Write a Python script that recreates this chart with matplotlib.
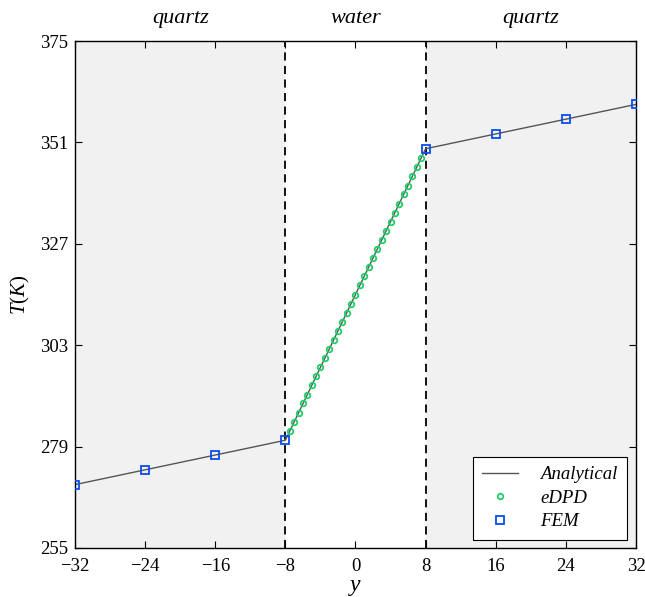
import matplotlib
matplotlib.use("Agg")
import matplotlib.pyplot as plt
import numpy as np

# Analytical profile (piecewise linear through interfaces)
analytical_y = [-32, -8, 8, 32]
analytical_T = [270.0, 280.5, 349.5, 360.0]

# eDPD samples in the water slab
edpd_y = [-7.5, -7.0, -6.5, -6.0, -5.5, -5.0, -4.5, -4.0, -3.5, -3.0, -2.5,
          -2.0, -1.5, -1.0, -0.5, 0.0, 0.5, 1.0, 1.5, 2.0, 2.5, 3.0, 3.5,
          4.0, 4.5, 5.0, 5.5, 6.0, 6.5, 7.0, 7.5]
edpd_T = [282.7, 284.9, 287.0, 289.2, 291.3, 293.5, 295.6, 297.8, 299.9,
          302.1, 304.2, 306.4, 308.5, 310.7, 312.8, 315.0, 317.2, 319.3,
          321.5, 323.6, 325.8, 327.9, 330.1, 332.2, 334.4, 336.5, 338.7,
          340.8, 343.0, 345.1, 347.3]

# FEM nodes
fem_y = [-32, -24, -16, -8, 8, 16, 24, 32]
fem_T = [270.0, 273.5, 277.0, 280.5, 349.5, 353.0, 356.5, 360.0]

x_ticks = [-32, -24, -16, -8, 0, 8, 16, 24, 32]
y_ticks = [255, 279, 303, 327, 351, 375]

regions = ["quartz", "water", "quartz"]
region_x = [-20, 0, 20]

plt.rcParams.update({
    "font.family": "serif",
    "font.serif": ["Liberation Serif", "DejaVu Serif"],
    "mathtext.fontset": "custom",
    "mathtext.rm": "Liberation Serif",
    "mathtext.it": "Liberation Serif:italic",
})

fig = plt.figure(figsize=(6.45, 5.97), dpi=100)
ax = fig.add_axes([0.1163, 0.0821, 0.8697, 0.8492])

ax.axvspan(-32, -8, color="#f1f1f1", lw=0, zorder=0)
ax.axvspan(8, 32, color="#f1f1f1", lw=0, zorder=0)
ax.axvline(-8, color="black", ls=(0, (4.5, 3)), lw=1.3, zorder=1)
ax.axvline(8, color="black", ls=(0, (4.5, 3)), lw=1.3, zorder=1)

ax.plot(analytical_y, analytical_T, color="#555555", lw=1.0,
        label="Analytical", zorder=2)
ax.plot(edpd_y, edpd_T, ls="none", marker="o", ms=4, mfc="none",
        mec="#22cc66", mew=1.3, label="eDPD", zorder=3)
ax.plot(fem_y, fem_T, ls="none", marker="s", ms=5.5, mfc="none",
        mec="#0a4cf0", mew=1.3, label="FEM", zorder=4)

ax.set_xlim(-32, 32)
ax.set_ylim(255, 375)
ax.set_xticks(x_ticks)
ax.set_yticks(y_ticks)
ax.set_xticklabels([str(v).replace("-", "\u2212") for v in x_ticks])
ax.tick_params(direction="in", top=True, right=True, length=5,
               labelsize=13.5, width=0.8)
ax.tick_params(axis="x", pad=7)
ax.tick_params(axis="y", pad=5)
for s in ax.spines.values():
    s.set_linewidth(1.0)

ax.set_xlabel("$y$", fontsize=17, labelpad=2)
ax.set_ylabel("$T(K)$", fontsize=15, labelpad=6)

for name, xc in zip(regions, region_x):
    ax.text(xc, 1.025, name, transform=ax.get_xaxis_transform(),
            ha="center", va="bottom", fontsize=16, style="italic")

leg = ax.legend(loc="lower right", fontsize=13.5, frameon=True, fancybox=False,
                edgecolor="black", framealpha=1, borderpad=0.5,
                handlelength=1.9, handletextpad=1.2, labelspacing=0.35,
                borderaxespad=0, bbox_to_anchor=(0.984, 0.016))
leg.get_frame().set_linewidth(0.8)
for t in leg.get_texts():
    t.set_fontstyle("italic")

fig.savefig("out.png", dpi=100)
